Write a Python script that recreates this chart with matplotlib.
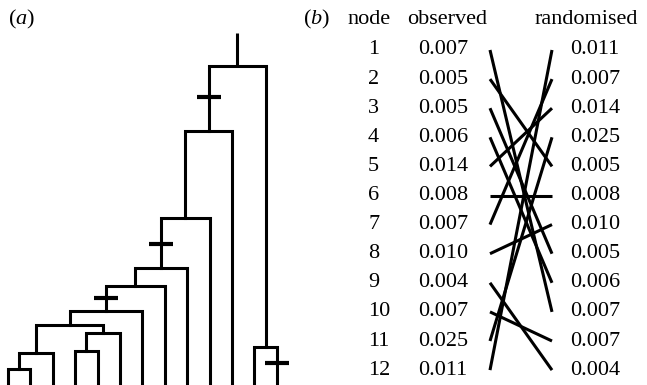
import matplotlib
matplotlib.use("Agg")
import matplotlib.pyplot as plt

plt.rcParams['font.family'] = ['Liberation Serif', 'DejaVu Serif']
plt.rcParams['mathtext.fontset'] = 'custom'
plt.rcParams['mathtext.rm'] = 'Liberation Serif'
plt.rcParams['mathtext.it'] = 'Liberation Serif:italic'

# ---------------- data ----------------
# tree (a): 13 leaves (ids 0..12); internal nodes 13.. as (left, right, height)
n_leaves = 13
merges = [
    (0, 1, 16),     # 13
    (13, 2, 32),    # 14
    (3, 4, 34),     # 15
    (15, 5, 52),    # 16
    (14, 16, 60),   # 17
    (17, 6, 74),    # 18
    (18, 7, 99),    # 19
    (19, 8, 117),   # 20
    (20, 9, 167),   # 21
    (21, 10, 254),  # 22
    (11, 12, 38),   # 23
    (22, 23, 319),  # 24 root
]
root_stem_top = 352
# branch marks: (node whose branch carries the mark, height of mark)
marks = [(22, 288), (20, 141), (18, 87), (12, 22)]

# table (b)
nodes = [1, 2, 3, 4, 5, 6, 7, 8, 9, 10, 11, 12]
observed = ["0.007", "0.005", "0.005", "0.006", "0.014", "0.008",
            "0.007", "0.010", "0.004", "0.007", "0.025", "0.011"]
randomised = ["0.011", "0.007", "0.014", "0.025", "0.005", "0.008",
              "0.010", "0.005", "0.006", "0.007", "0.007", "0.004"]
# row in randomised column matched to each observed row
match = [10, 5, 8, 9, 3, 6, 2, 7, 12, 11, 4, 1]

# ---------------- figure ----------------
W, H = 647, 385
fig = plt.figure(figsize=(W / 100, H / 100), dpi=100)

# ---- (a) tree ----
ax = fig.add_axes([0, 0, 300 / W, 1])
ax.set_xlim(-8 / 22.4, 292 / 22.4)
ax.set_ylim(0, H)
ax.axis('off')

xpos = {i: float(i) for i in range(n_leaves)}
hpos = {i: 0.0 for i in range(n_leaves)}
for k, (a, b, h) in enumerate(merges):
    nid = n_leaves + k
    xpos[nid] = (xpos[a] + xpos[b]) / 2
    hpos[nid] = h
    ax.plot([xpos[a], xpos[a], xpos[b], xpos[b]],
            [hpos[a], h, h, hpos[b]], color='black', lw=2.2,
            solid_joinstyle='miter', solid_capstyle='projecting')
root = n_leaves + len(merges) - 1
ax.plot([xpos[root], xpos[root]], [hpos[root], root_stem_top],
        color='black', lw=2.2, solid_capstyle='butt')
for node, h in marks:
    ax.plot([xpos[node] - 0.54, xpos[node] + 0.54], [h, h],
            color='black', lw=3.0, solid_capstyle='butt')

# ---- (b) table ----
bx = fig.add_axes([0, 0, 1, 1])
bx.set_xlim(0, W)
bx.set_ylim(1 + (H - 50) / 29.1, 1 - 50 / 29.1)
bx.axis('off')
bx.patch.set_alpha(0)

fs = 16
hy = 1 + (19 - 50) / 29.1
bx.text(8, hy, r'($a$)', fontsize=fs, ha='left', va='center')
bx.text(303, hy, r'($b$)', fontsize=fs, ha='left', va='center')
bx.text(347, hy, 'node', fontsize=fs, ha='left', va='center')
bx.text(407, hy, 'observed', fontsize=fs, ha='left', va='center')
bx.text(535, hy, 'randomised', fontsize=fs, ha='left', va='center')

for r, (n, o, rv) in enumerate(zip(nodes, observed, randomised), start=1):
    bx.text(368, r, str(n), fontsize=fs, ha='left', va='center')
    bx.text(418, r, o, fontsize=fs, ha='left', va='center')
    bx.text(570, r, rv, fontsize=fs, ha='left', va='center')

for r, m in enumerate(match, start=1):
    bx.plot([490, 552], [r, m], color='black', lw=2.2, solid_capstyle='butt')

fig.savefig('out.png', dpi=100)
